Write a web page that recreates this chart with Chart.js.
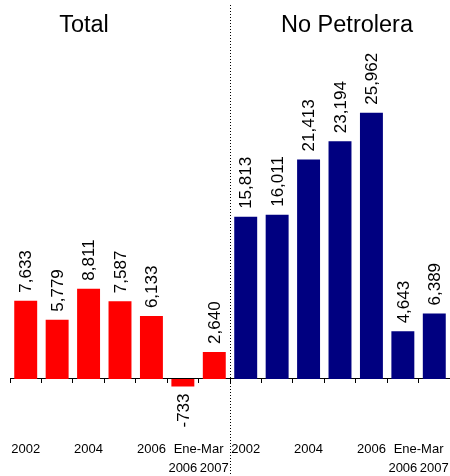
<!DOCTYPE html>
<html>
<head>
<meta charset="utf-8">
<script src="https://cdn.jsdelivr.net/npm/chart.js@4"></script>
<style>
  body { margin:0; background:#fff; }
  #wrap { width:450px; height:476px; position:relative; }
</style>
</head>
<body>
<div id="wrap"><canvas id="chart"></canvas></div>
<script>
// data
const groupTitles = ['Total', 'No Petrolera'];
const periods     = ['2002', '2003', '2004', '2005', '2006', 'Ene-Mar 2006', 'Ene-Mar 2007'];
const tickLabels  = ['2002', '', '2004', '', '2006', ['', '2006'], ['', '2007']];
const periodLabel = 'Ene-Mar';
const totalVals   = [7633, 5779, 8811, 7587, 6133, -733, 2640];
const noPetVals   = [15813, 16011, 21413, 23194, 25962, 4643, 6389];

const RED = '#ff0000', NAVY = '#000080';
const FONT = '"Liberation Sans", Arial, sans-serif';

const labels = periods.map(p => groupTitles[0] + ' ' + p).concat(periods.map(p => groupTitles[1] + ' ' + p));
const ticks  = tickLabels.concat(tickLabels);
const values = totalVals.concat(noPetVals);
const colors = totalVals.map(() => RED).concat(noPetVals.map(() => NAVY));

const extras = {
  id: 'extras',
  afterDatasetsDraw(chart) {
    const ctx = chart.ctx, x = chart.scales.x, lab = chart.scales.x2;
    const n = periods.length;
    ctx.save();

    // value labels, rotated
    ctx.font = '17px ' + FONT;
    ctx.fillStyle = '#000';
    ctx.textBaseline = 'middle';
    chart.getDatasetMeta(0).data.forEach((bar, i) => {
      const v = values[i];
      ctx.save();
      ctx.translate(bar.x, v >= 0 ? bar.y - 8 : bar.y + 7);
      ctx.rotate(-Math.PI / 2);
      ctx.textAlign = v >= 0 ? 'left' : 'right';
      ctx.fillText(v.toLocaleString('en-US'), 0, 1);
      ctx.restore();
    });

    // dotted separator between the two groups
    const sep = (x.getPixelForValue(n - 1) + x.getPixelForValue(n)) / 2;
    ctx.strokeStyle = '#000';
    ctx.lineWidth = 1;
    ctx.setLineDash([1, 2]);
    ctx.beginPath();
    ctx.moveTo(Math.round(sep) + 0.5, 5);
    ctx.lineTo(Math.round(sep) + 0.5, chart.height);
    ctx.stroke();
    ctx.setLineDash([]);

    // "Ene-Mar" spanning the two quarterly bars of each group
    ctx.font = '13px ' + FONT;
    ctx.textAlign = 'center';
    [0, n].forEach(off => {
      const mid = (x.getPixelForValue(off + n - 2) + x.getPixelForValue(off + n - 1)) / 2;
      ctx.fillText(periodLabel, mid, lab.top + 17.5);
    });

    // group titles
    ctx.font = '23.5px ' + FONT;
    ctx.textBaseline = 'alphabetic';
    ctx.fillText(groupTitles[0], 84, 32);
    ctx.fillText(groupTitles[1], 347, 32);
    ctx.restore();
  }
};

new Chart(document.getElementById('chart').getContext('2d'), {
  type: 'bar',
  data: {
    labels: labels,
    datasets: [{ data: values, backgroundColor: colors, barPercentage: 0.73, categoryPercentage: 1 }]
  },
  options: {
    responsive: true,
    maintainAspectRatio: false,
    animation: false,
    layout: { padding: { left: 10, right: 0, top: 0, bottom: -2 } },
    plugins: { legend: { display: false }, tooltip: { enabled: false } },
    scales: {
      x: {
        position: { y: 0 },
        grid: { drawOnChartArea: false, tickLength: 4, color: '#000', offset: true },
        border: { color: '#000', width: 1 },
        ticks: { display: false }
      },
      x2: {
        type: 'category',
        position: 'bottom',
        offset: true,
        grid: { display: false },
        border: { display: false },
        ticks: {
          autoSkip: false, maxRotation: 0, padding: 0, color: '#000',
          font: { family: FONT, size: 13, lineHeight: 1.45 },
          callback: (v, i) => ticks[i]
        }
      },
      y: { display: false, min: -5200, max: 36960 }
    }
  },
  plugins: [extras]
});
</script>
</body>
</html>
